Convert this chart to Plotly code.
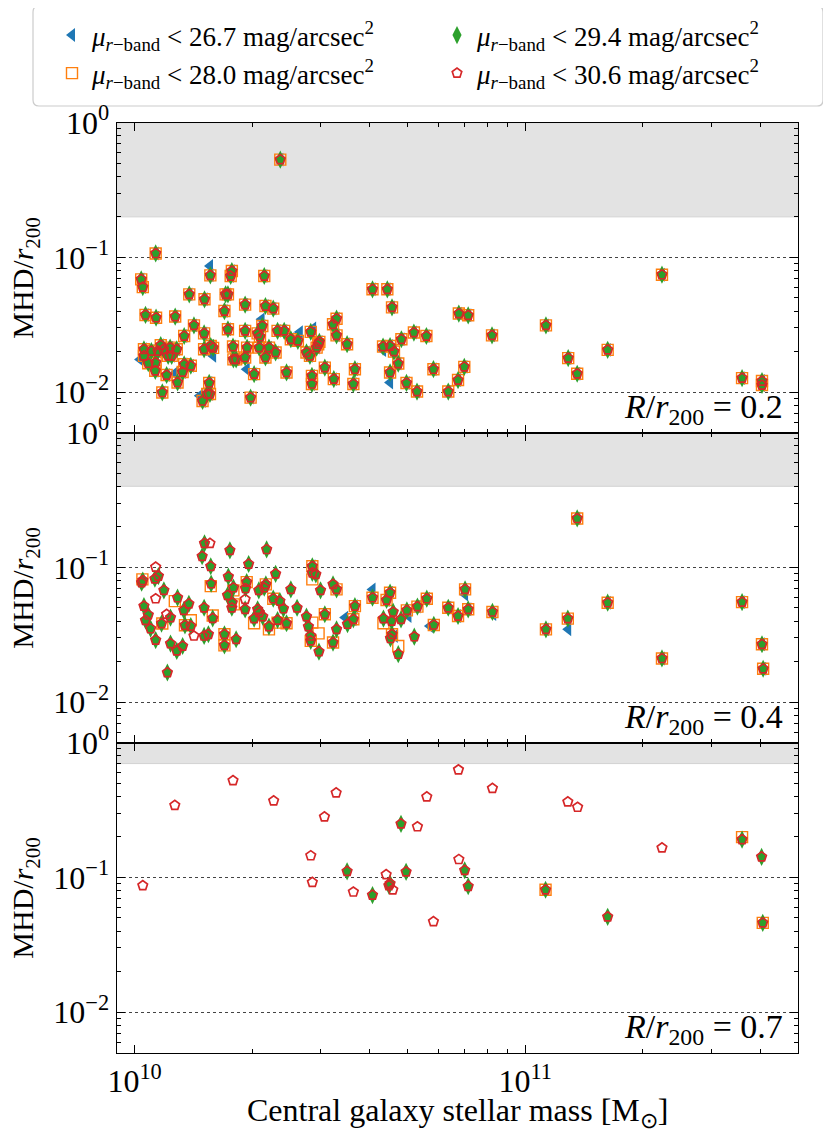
import numpy as np
import plotly.graph_objects as go
from plotly.subplots import make_subplots

# ---------------------------------------------
# data: log10(M*/Msun) and MHD/r200 per galaxy
# ---------------------------------------------

# R/r200 = 0.2 : all four surface-brightness limits coincide for almost every galaxy
p1_logm = [10.054, 10.017, 10.021, 10.028, 10.055, 10.104, 10.140, 10.179, 10.194, 10.246,
           10.249, 10.332, 10.233, 10.239, 10.230, 10.283, 10.335, 10.355, 10.152, 10.127,
           10.178, 10.239, 10.283, 10.327, 10.315, 10.321, 10.366, 10.383, 10.400, 10.418,
           10.451, 10.473, 10.466, 10.508, 10.517, 10.517, 10.024, 10.024, 10.043, 10.067,
           10.060, 10.074, 10.091, 10.086, 10.095, 10.108, 10.035, 10.054, 10.053, 10.082,
           10.110, 10.127, 10.144, 10.123, 10.178, 10.195, 10.201, 10.252, 10.253, 10.260,
           10.288, 10.283, 10.319, 10.344, 10.335, 10.361, 10.306, 10.389, 10.440, 10.449,
           10.470, 10.454, 10.454, 10.487, 10.510, 10.071, 10.191, 10.193, 10.186, 10.174,
           10.297, 10.373, 10.609, 10.647, 10.659, 10.544, 10.636, 10.654, 10.664, 10.683,
           10.715, 10.747, 10.675, 10.654, 10.696, 10.723, 10.564, 10.560, 10.765, 10.830,
           10.854, 10.915, 10.844, 10.828, 10.803, 11.053, 11.110, 11.133, 11.350, 11.211,
           11.555, 11.606, 11.606]
p1_mhd = [0.107, 0.0687, 0.0602, 0.0374, 0.0357, 0.0364, 0.0532, 0.0489, 0.0736, 0.0728,
          0.0792, 0.0728, 0.0532, 0.0532, 0.0400, 0.0446, 0.0436, 0.0417, 0.0313, 0.0261,
          0.0273, 0.0293, 0.0285, 0.0310, 0.0273, 0.0258, 0.0285, 0.0285, 0.0247, 0.0240,
          0.0280, 0.0236, 0.0214, 0.0319, 0.0351, 0.0264, 0.0208, 0.0186, 0.0202, 0.0223,
          0.0202, 0.0208, 0.0214, 0.0186, 0.0186, 0.0208, 0.0164, 0.0166, 0.0144, 0.0134,
          0.0118, 0.0161, 0.0157, 0.0141, 0.0208, 0.0220, 0.0213, 0.0218, 0.0175, 0.0175,
          0.0214, 0.0181, 0.0214, 0.0214, 0.0181, 0.0197, 0.0136, 0.0140, 0.0197, 0.0186,
          0.0227, 0.0132, 0.0115, 0.0152, 0.0125, 0.00995, 0.0117, 0.0097, 0.0097, 0.0086,
          0.0091, 0.532, 0.058, 0.058, 0.0426, 0.0227, 0.0218, 0.0220, 0.0200, 0.0247,
          0.0277, 0.0261, 0.0163, 0.0140, 0.0117, 0.0101, 0.0148, 0.0115, 0.0148, 0.0383,
          0.0372, 0.0264, 0.0154, 0.0123, 0.0101, 0.0313, 0.0179, 0.0137, 0.0744, 0.0206,
          0.0127, 0.0121, 0.0113]
# shallowest limit (26.7) sitting elsewhere
p1_blue_logm = [10.193, 10.201, 10.287, 10.636, 10.654, 10.325, 10.423, 10.457, 10.103, 10.167, 10.014]
p1_blue_mhd = [0.0863, 0.0186, 0.0148, 0.0205, 0.0118, 0.0347, 0.0279, 0.0297, 0.0138, 0.0094, 0.0175]

# R/r200 = 0.4
p2_green_logm = [10.179, 10.173, 10.244, 10.338, 10.195, 10.292, 10.021, 10.018, 10.052, 10.061,
                 10.075, 10.110, 10.139, 10.126, 10.024, 10.035, 10.028, 10.041, 10.054, 10.069,
                 10.092, 10.092, 10.108, 10.123, 10.084, 10.129, 10.144, 10.178, 10.196, 10.200,
                 10.178, 10.189, 10.230, 10.230, 10.260, 10.240, 10.253, 10.238, 10.250, 10.249,
                 10.283, 10.287, 10.284, 10.318, 10.336, 10.332, 10.361, 10.355, 10.372, 10.381,
                 10.315, 10.319, 10.328, 10.306, 10.344, 10.366, 10.389, 10.400, 10.416, 10.440,
                 10.445, 10.455, 10.455, 10.464, 10.451, 10.451, 10.472, 10.476, 10.487, 10.508,
                 10.517, 10.517, 10.508, 11.133, 10.564, 10.560, 10.545, 10.609, 10.654, 10.645,
                 10.662, 10.637, 10.658, 10.682, 10.697, 10.724, 10.748, 10.659, 10.655, 10.675,
                 10.716, 10.766, 10.803, 10.828, 10.854, 10.846, 10.916, 11.053, 11.109, 11.211,
                 11.350, 11.555, 11.606, 11.609]
p2_green_mhd = [0.151, 0.121, 0.134, 0.136, 0.102, 0.106, 0.080, 0.077, 0.0824, 0.0863,
                0.0676, 0.0596, 0.0537, 0.0480, 0.0516, 0.0444, 0.0405, 0.0351, 0.0289, 0.0383,
                0.0424, 0.0272, 0.0240, 0.0261, 0.0166, 0.0372, 0.0367, 0.0502, 0.0757, 0.0419,
                0.0310, 0.0319, 0.0319, 0.0264, 0.0293, 0.0853, 0.0707, 0.0621, 0.0547, 0.0502,
                0.0489, 0.0778, 0.0698, 0.0676, 0.0748, 0.0707, 0.0897, 0.0586, 0.0562, 0.0494,
                0.0489, 0.0463, 0.0431, 0.0417, 0.0364, 0.0407, 0.0385, 0.0687, 0.0502, 0.0431,
                0.0364, 0.102, 0.0912, 0.0888, 0.0310, 0.0285, 0.0237, 0.0676, 0.0449, 0.0748,
                0.0687, 0.0347, 0.0277, 0.231, 0.0516, 0.0412, 0.0379, 0.0596, 0.0649, 0.0573,
                0.0467, 0.0417, 0.0400, 0.0412, 0.0480, 0.0512, 0.0586, 0.0319, 0.0297, 0.0227,
                0.0306, 0.0374, 0.0502, 0.0436, 0.0489, 0.0687, 0.0467, 0.0347, 0.0417, 0.0547,
                0.0211, 0.0553, 0.0269, 0.0177]
p2_red_logm = [10.193, 10.054, 10.054, 10.082, 10.152, 10.283]
p2_red_mhd = [0.151, 0.1005, 0.0586, 0.0449, 0.031, 0.058]
p2_orange_logm = [10.020, 10.103, 10.071, 10.129, 10.144, 10.195, 10.200, 10.230, 10.230, 10.253,
                  10.254, 10.287, 10.336, 10.355, 10.306, 10.344, 10.366, 10.389, 10.455, 10.455,
                  10.455, 10.471, 10.451, 10.487, 10.517, 10.508, 11.133, 10.564, 10.560, 10.609,
                  10.654, 10.645, 10.637, 10.697, 10.724, 10.748, 10.659, 10.675, 10.766, 10.803,
                  10.828, 10.854, 10.846, 10.916, 11.053, 11.109, 11.211, 11.350, 11.555, 11.606,
                  11.609]
p2_orange_mhd = [0.0815, 0.0562, 0.0383, 0.0372, 0.0405, 0.0727, 0.0440, 0.0319, 0.0264, 0.0676,
                 0.0532, 0.0778, 0.0748, 0.0586, 0.0385, 0.0347, 0.0389, 0.0385, 0.102, 0.0815,
                 0.0389, 0.0324, 0.0285, 0.0449, 0.0687, 0.0277, 0.231, 0.0516, 0.0412, 0.0596,
                 0.0649, 0.0573, 0.0385, 0.0480, 0.0512, 0.0586, 0.0319, 0.0261, 0.0374, 0.0502,
                 0.0436, 0.0489, 0.0687, 0.0467, 0.0347, 0.0417, 0.0547, 0.0211, 0.0553, 0.0269,
                 0.0177]
p2_blue_logm = [10.455, 10.539, 10.564, 10.560, 10.609, 10.654, 10.645, 10.666, 10.701, 10.724,
                10.748, 10.756, 10.803, 10.828, 10.846, 10.854, 10.918, 11.053, 11.110, 11.133,
                11.211, 11.350, 11.555, 11.606, 11.609]
p2_blue_mhd = [0.102, 0.0424, 0.0516, 0.0412, 0.0687, 0.0649, 0.0573, 0.0310, 0.0436, 0.0512,
               0.0586, 0.0367, 0.0502, 0.0436, 0.063, 0.0489, 0.0450, 0.0347, 0.0347, 0.231,
               0.0547, 0.0211, 0.0553, 0.0269, 0.0177]

# R/r200 = 0.7
p3_green_logm = [10.544, 10.609, 10.651, 10.654, 10.682, 10.695, 10.845, 10.854, 11.052, 11.211,
                 11.555, 11.605, 11.608]
p3_green_mhd = [0.111, 0.074, 0.087, 0.090, 0.25, 0.11, 0.113, 0.086, 0.081, 0.051,
                0.191, 0.142, 0.046]
p3_red_logm = [10.021, 10.103, 10.252, 10.356, 10.451, 10.455, 10.486, 10.516, 10.560, 10.644,
               10.661, 10.724, 10.748, 10.765, 10.829, 10.830, 10.916, 11.109, 11.134, 11.350]
p3_red_mhd = [0.087, 0.343, 0.524, 0.37, 0.145, 0.092, 0.282, 0.424, 0.078, 0.105,
              0.081, 0.238, 0.396, 0.047, 0.63, 0.136, 0.459, 0.364, 0.332, 0.166]
p3_orange_logm = [11.052, 11.555, 11.608]
p3_orange_mhd = [0.081, 0.199, 0.046]

mu_limits = ["26.7", "28.0", "29.4", "30.6"]
radii = ["0.2", "0.4", "0.7"]
shade_low = [0.2, 0.4, 0.7]

# ---------------------------------------------
# per panel series (blue, orange, green, red)
# ---------------------------------------------
panels = [
    dict(blue=(p1_logm + p1_blue_logm, p1_mhd + p1_blue_mhd),
         orange=(p1_logm, p1_mhd), green=(p1_logm, p1_mhd), red=(p1_logm, p1_mhd)),
    dict(blue=(p2_blue_logm, p2_blue_mhd), orange=(p2_orange_logm, p2_orange_mhd),
         green=(p2_green_logm, p2_green_mhd),
         red=(p2_green_logm + p2_red_logm, p2_green_mhd + p2_red_mhd)),
    dict(blue=([], []), orange=(p3_orange_logm, p3_orange_mhd),
         green=(p3_green_logm, p3_green_mhd),
         red=(p3_green_logm + p3_red_logm, p3_green_mhd + p3_red_mhd)),
]

FONT = "Liberation Serif"
W, H = 831, 1141
OFF = 8  # the page body margin moves the figure 8 px right and down


def px(x):
    return (x - OFF) / W


def py(y):
    return 1 - (y - OFF) / H


styles = {
    "blue": dict(symbol="triangle-left", size=12, color="#1f77b4", line=dict(width=0)),
    "orange": dict(symbol="square-open", size=11, color="#ff7f0e", line=dict(width=1.4)),
    "green": dict(symbol="diamond-tall", size=13, color="#2ca02c", line=dict(width=0)),
    "red": dict(symbol="pentagon-open", size=10, color="#d62728", line=dict(width=1.7)),
}
ranks = {"blue": 1, "green": 2, "orange": 3, "red": 4}
names = {"blue": mu_limits[0], "orange": mu_limits[1], "green": mu_limits[2], "red": mu_limits[3]}

fig = make_subplots(rows=3, cols=1, shared_xaxes=True, vertical_spacing=0)

for i, pan in enumerate(panels):
    for key in ["blue", "orange", "green", "red"]:
        lm, v = pan[key]
        fig.add_trace(go.Scatter(
            x=10 ** np.array(lm, dtype=float), y=v, mode="markers",
            marker=styles[key], legendgroup=key, legendrank=ranks[key],
            showlegend=(i == 0),
            name=f"<i>μ</i><sub><i>r</i>−band</sub> &lt; {names[key]} mag/arcsec<sup>2</sup>",
        ), row=i + 1, col=1)

# ---------------------------------------------
# axes
# ---------------------------------------------
edges = [122.7, 432.7, 742.7, 1052.7]
y_dom = [[py(edges[k + 1]), py(edges[k])] for k in range(3)]
x_dom = [px(116.7), px(798.3)]
x_minor = [m * 10 ** e for e in (9, 10, 11) for m in range(2, 10) if 9e9 <= m * 10 ** e <= 5e11]
y_minor = [m * 10.0 ** e for e in (-3, -2, -1) for m in range(2, 10) if m * 10.0 ** e >= 0.005]
tickfont = dict(family=FONT, size=32, color="black")

for i in range(3):
    fig.update_xaxes(type="log", range=[np.log10(9e9), np.log10(5e11)], domain=x_dom,
                     showline=True, linecolor="black", linewidth=1.3, mirror="ticks",
                     ticks="inside", ticklen=8, tickwidth=1.1, tickcolor="black",
                     tickvals=[1e10, 1e11], ticktext=["10<sup>10</sup>", "10<sup>11</sup>"],
                     minor=dict(tickvals=x_minor, ticks="inside", ticklen=4, tickcolor="black",
                                tickwidth=0.9, showgrid=False),
                     showgrid=False, zeroline=False, tickfont=tickfont, automargin=False,
                     showticklabels=(i == 2), row=i + 1, col=1)
    fig.update_yaxes(type="log", range=[np.log10(0.005), 0], domain=y_dom[i],
                     showline=True, linecolor="black", linewidth=1.3, mirror="ticks",
                     ticks="inside", ticklen=8, tickwidth=1.1, tickcolor="black",
                     tickvals=[1, 0.1, 0.01],
                     ticktext=["10<sup>0</sup>", "10<sup>−1</sup>", "10<sup>−2</sup>"],
                     minor=dict(tickvals=y_minor, ticks="inside", ticklen=4, tickcolor="black",
                                tickwidth=0.9, showgrid=False),
                     showgrid=True, gridcolor="#444444", griddash="dot", gridwidth=0.8,
                     zeroline=False, tickfont=tickfont, automargin=False, row=i + 1, col=1)

    ax = "" if i == 0 else str(i + 1)
    fig.add_shape(type="rect", xref=f"x{ax} domain", yref=f"y{ax}",
                  x0=0, x1=1, y0=shade_low[i], y1=1,
                  fillcolor="#e3e3e3", line=dict(color="#d2d2d2", width=1), layer="below")
    fig.add_annotation(xref=f"x{ax} domain", yref=f"y{ax} domain", x=0.981, y=0.075,
                       xanchor="right", yanchor="middle", showarrow=False,
                       text=f"<i>R</i>/<i>r</i><sub>200</sub> = {radii[i]}",
                       font=dict(family=FONT, size=34, color="black"))
    yc = (y_dom[i][0] + y_dom[i][1]) / 2
    fig.add_annotation(xref="paper", yref="paper", x=px(25), y=yc, textangle=-90,
                       xanchor="center", yanchor="middle", showarrow=False, borderpad=0,
                       text="MHD/<i>r</i><sub>200</sub>",
                       font=dict(family=FONT, size=30, color="black"))

fig.add_annotation(xref="paper", yref="paper", x=(x_dom[0] + x_dom[1]) / 2, y=py(1112),
                   xanchor="center", yanchor="middle", showarrow=False, borderpad=0,
                   text="Central galaxy stellar mass [M<sub>⊙</sub>]",
                   font=dict(family=FONT, size=32, color="black"))

# rounded legend frame
x0, x1 = px(33), px(823)
y0, y1 = py(106), py(6)
rx, ry = 6 / W, 6 / H
frame = (f"M {x0 + rx},{y1} L {x1 - rx},{y1} Q {x1},{y1} {x1},{y1 - ry} "
         f"L {x1},{y0 + ry} Q {x1},{y0} {x1 - rx},{y0} L {x0 + rx},{y0} "
         f"Q {x0},{y0} {x0},{y0 + ry} L {x0},{y1 - ry} Q {x0},{y1} {x0 + rx},{y1} Z")
fig.add_shape(type="path", xref="paper", yref="paper", path=frame,
              fillcolor="white", line=dict(color="#cccccc", width=1.2), layer="below")

fig.update_layout(
    width=W, height=H, margin=dict(l=0, r=0, t=0, b=0, autoexpand=False),
    plot_bgcolor="white", paper_bgcolor="white",
    font=dict(family=FONT, color="black"),
    legend=dict(orientation="h", x=px(52), y=py(11), xanchor="left", yanchor="top",
                entrywidth=340, entrywidthmode="pixels", traceorder="normal",
                font=dict(family=FONT, size=27, color="black"),
                bgcolor="rgba(0,0,0,0)", borderwidth=0),
)

fig.write_html("out.html")
